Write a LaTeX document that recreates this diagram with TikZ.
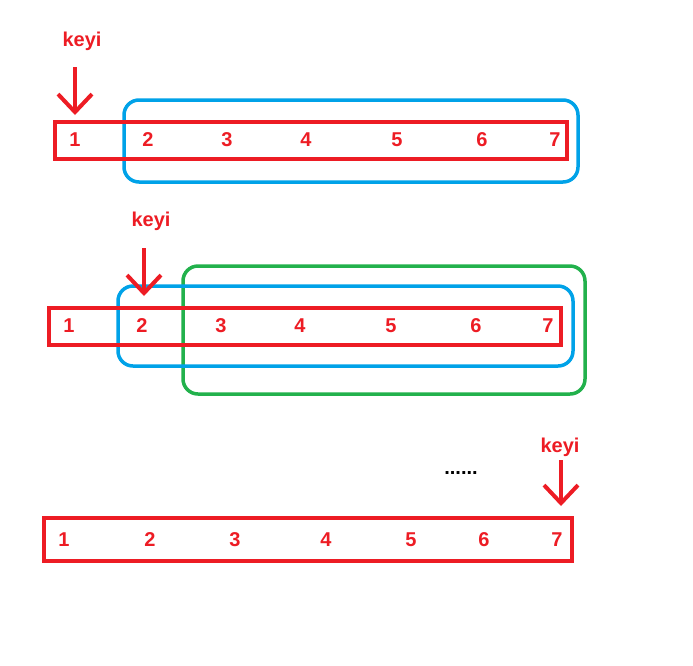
\documentclass[tikz,border=0pt]{standalone}
\usepackage{fontspec}
\setmainfont{Liberation Sans}
\usetikzlibrary{arrows.meta}
\definecolor{pred}{HTML}{ED1C24}
\definecolor{pblue}{HTML}{00A2E8}
\definecolor{pgreen}{HTML}{22B14C}
\tikzset{
  arr/.style={draw=pred, line width=4pt, rectangle, minimum height=37pt, inner sep=0pt},
  num/.style={text=pred, font=\bfseries\fontsize{20}{22}\selectfont, inner sep=0pt},
  key/.style={text=pred, font=\bfseries\fontsize{20}{22}\selectfont, inner sep=0pt},
  win/.style={line width=3.5pt, rounded corners=15pt},
  ptr/.style={draw=pred, line width=4pt, -{Straight Barb[length=18pt,width=34pt,line width=4pt]}},
}
\begin{document}
\begin{tikzpicture}[x=1pt,y=-1pt]
\useasboundingbox (0,0) rectangle (693,665);
% Row 1
\draw[win, pblue] (124,100) rectangle (578,182);
\node[arr, minimum width=512pt] (r1) at (311,140.5) {};
\foreach \n/\x in {1/75,2/148,3/227,4/306,5/397,6/482,7/555}
  \node[num] (a\n) at (\x,140) {\n};
\node[key] (k1) at (82,41) {keyi};
\coordinate (s1) at (75,67);
\coordinate (e1) at (75,115);
\draw[ptr] (s1) -- (e1);
% Row 2
\draw[win, pgreen] (183,266) rectangle (585,394);
\draw[win, pblue] (118,286) rectangle (573,366);
\node[arr, minimum width=512pt] (r2) at (305,326.5) {};
\foreach \n/\x in {1/69,2/142,3/221,4/300,5/391,6/476,7/548}
  \node[num] (b\n) at (\x,326) {\n};
\node[key] (k2) at (151,221) {keyi};
\coordinate (s2) at (144,248);
\coordinate (e2) at (144,296);
\draw[ptr] (s2) -- (e2);
% Row 3
\node[arr, minimum width=528pt, minimum height=43pt] (r3) at (308,539.5) {};
\foreach \n/\x in {1/64,2/150,3/235,4/326,5/411,6/484,7/557}
  \node[num] (c\n) at (\x,540) {\n};
\node[key] (k3) at (560,447) {keyi};
\node[font=\bfseries\fontsize{20}{22}\selectfont, inner sep=0pt, anchor=base] (dots) at (461,474) {......};
\coordinate (s3) at (561,460);
\coordinate (e3) at (561,506);
\draw[ptr] (s3) -- (e3);
\end{tikzpicture}
\end{document}
